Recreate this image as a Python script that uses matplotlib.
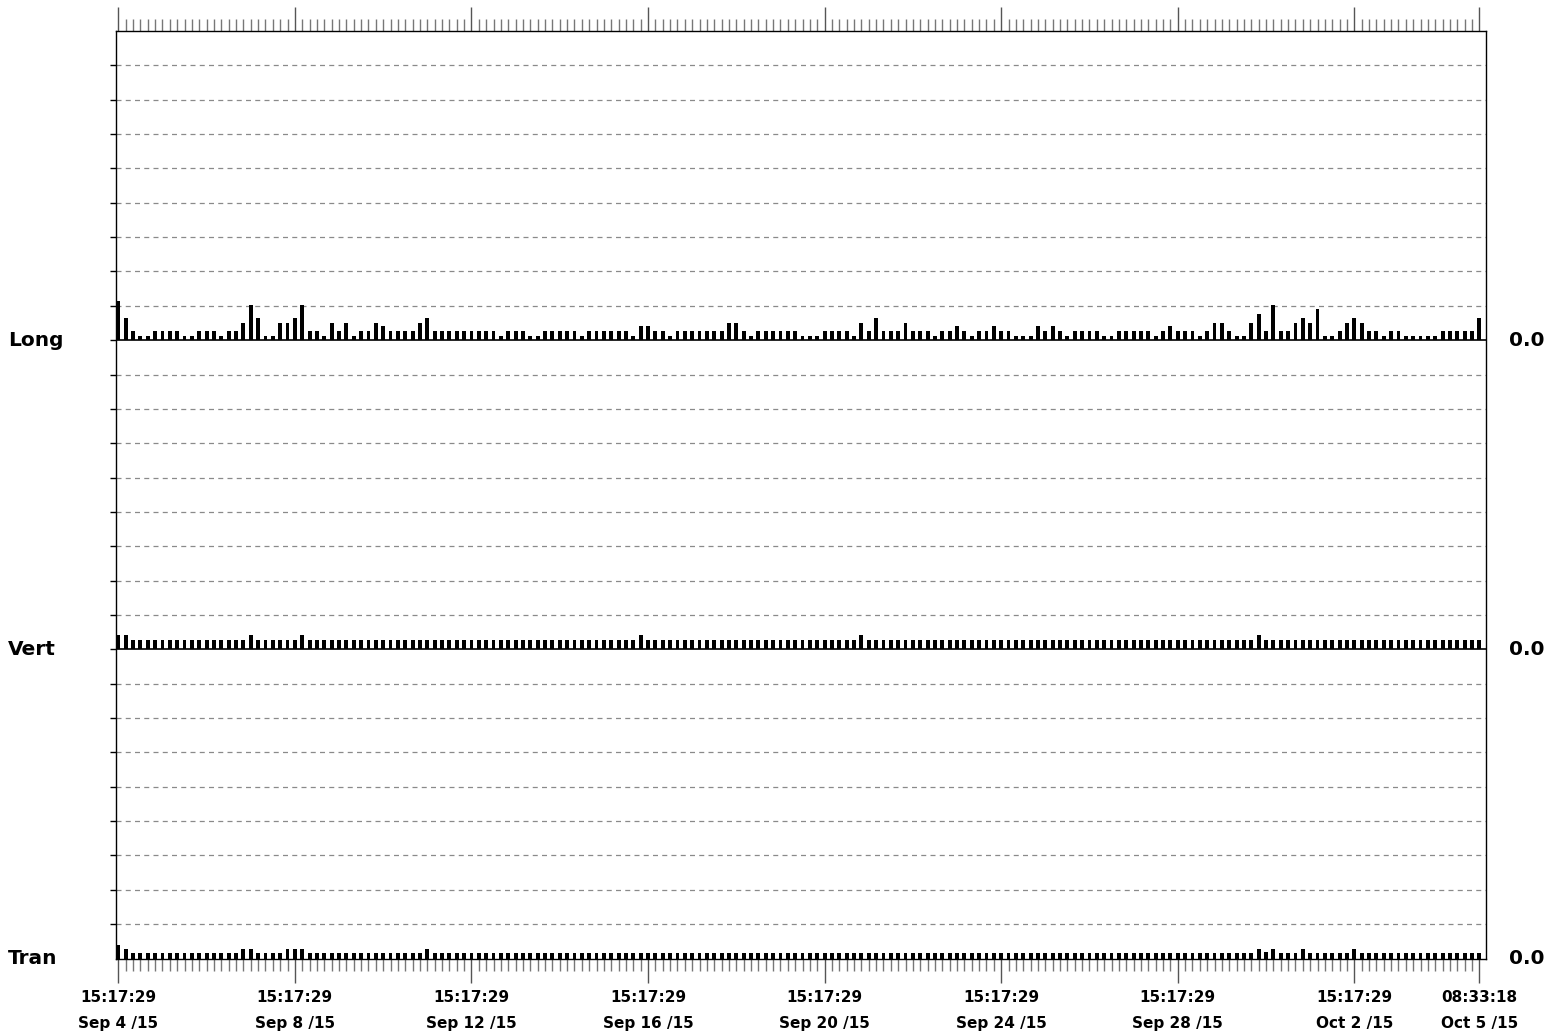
#!/usr/bin/env python
"""Three-strip bar trace (Long / Vert / Tran) over Sep 4 - Oct 5 2015."""

import matplotlib.pyplot as plt
from matplotlib.transforms import blended_transform_factory

plt.rcParams['font.family'] = ['DejaVu Sans']

#+++ Data -- one sample every 4 h starting Sep 4 15:17:29 (x in hours), heights in grid units
n_samples = 186
hours = [4 * i for i in range(n_samples)]

long_vals = [
    1.13, 0.64, 0.27, 0.13, 0.13, 0.27, 0.27, 0.27, 0.27, 0.13,
    0.13, 0.27, 0.27, 0.27, 0.13, 0.27, 0.27, 0.51, 1.02, 0.64,
    0.13, 0.13, 0.51, 0.51, 0.64, 1.02, 0.27, 0.27, 0.13, 0.51,
    0.27, 0.51, 0.13, 0.27, 0.27, 0.51, 0.40, 0.27, 0.27, 0.27,
    0.27, 0.51, 0.64, 0.27, 0.27, 0.27, 0.27, 0.27, 0.27, 0.27,
    0.27, 0.27, 0.13, 0.27, 0.27, 0.27, 0.13, 0.13, 0.27, 0.27,
    0.27, 0.27, 0.27, 0.13, 0.27, 0.27, 0.27, 0.27, 0.27, 0.27,
    0.13, 0.40, 0.40, 0.27, 0.27, 0.13, 0.27, 0.27, 0.27, 0.27,
    0.27, 0.27, 0.27, 0.51, 0.51, 0.27, 0.13, 0.27, 0.27, 0.27,
    0.27, 0.27, 0.27, 0.13, 0.13, 0.13, 0.27, 0.27, 0.27, 0.27,
    0.13, 0.51, 0.27, 0.64, 0.27, 0.27, 0.27, 0.51, 0.27, 0.27,
    0.27, 0.13, 0.27, 0.27, 0.40, 0.27, 0.13, 0.27, 0.27, 0.40,
    0.27, 0.27, 0.13, 0.13, 0.13, 0.40, 0.27, 0.40, 0.27, 0.13,
    0.27, 0.27, 0.27, 0.27, 0.13, 0.13, 0.27, 0.27, 0.27, 0.27,
    0.27, 0.13, 0.27, 0.40, 0.27, 0.27, 0.27, 0.13, 0.27, 0.51,
    0.51, 0.27, 0.13, 0.13, 0.51, 0.76, 0.27, 1.02, 0.27, 0.27,
    0.51, 0.64, 0.51, 0.90, 0.13, 0.13, 0.27, 0.51, 0.64, 0.51,
    0.27, 0.27, 0.13, 0.27, 0.27, 0.13, 0.13, 0.13, 0.13, 0.13,
    0.27, 0.27, 0.27, 0.27, 0.27, 0.64,
]

vert_vals = [
    0.41, 0.41, 0.27, 0.27, 0.27, 0.27, 0.27, 0.27, 0.27, 0.27, 0.27, 0.27, 0.27, 0.27, 0.27, 0.27, 0.27, 0.27, 0.41, 0.27,
    0.27, 0.27, 0.27, 0.27, 0.27, 0.41, 0.27, 0.27, 0.27, 0.27, 0.27, 0.27, 0.27, 0.27, 0.27, 0.27, 0.27, 0.27, 0.27, 0.27,
    0.27, 0.27, 0.27, 0.27, 0.27, 0.27, 0.27, 0.27, 0.27, 0.27, 0.27, 0.27, 0.27, 0.27, 0.27, 0.27, 0.27, 0.27, 0.27, 0.27,
    0.27, 0.27, 0.27, 0.27, 0.27, 0.27, 0.27, 0.27, 0.27, 0.27, 0.27, 0.41, 0.27, 0.27, 0.27, 0.27, 0.27, 0.27, 0.27, 0.27,
    0.27, 0.27, 0.27, 0.27, 0.27, 0.27, 0.27, 0.27, 0.27, 0.27, 0.27, 0.27, 0.27, 0.27, 0.27, 0.27, 0.27, 0.27, 0.27, 0.27,
    0.27, 0.41, 0.27, 0.27, 0.27, 0.27, 0.27, 0.27, 0.27, 0.27, 0.27, 0.27, 0.27, 0.27, 0.27, 0.27, 0.27, 0.27, 0.27, 0.27,
    0.27, 0.27, 0.27, 0.27, 0.27, 0.27, 0.27, 0.27, 0.27, 0.27, 0.27, 0.27, 0.27, 0.27, 0.27, 0.27, 0.27, 0.27, 0.27, 0.27,
    0.27, 0.27, 0.27, 0.27, 0.27, 0.27, 0.27, 0.27, 0.27, 0.27, 0.27, 0.27, 0.27, 0.27, 0.27, 0.41, 0.27, 0.27, 0.27, 0.27,
    0.27, 0.27, 0.27, 0.27, 0.27, 0.27, 0.27, 0.27, 0.27, 0.27, 0.27, 0.27, 0.27, 0.27, 0.27, 0.27, 0.27, 0.27, 0.27, 0.27,
    0.27, 0.27, 0.27, 0.27, 0.27, 0.27,
]

tran_vals = [
    0.40, 0.27, 0.16, 0.16, 0.16, 0.16, 0.16, 0.16, 0.16, 0.16, 0.16, 0.16, 0.16, 0.16, 0.16, 0.16, 0.16, 0.27, 0.27, 0.16,
    0.16, 0.16, 0.16, 0.27, 0.27, 0.27, 0.16, 0.16, 0.16, 0.16, 0.16, 0.16, 0.16, 0.16, 0.16, 0.16, 0.16, 0.16, 0.16, 0.16,
    0.16, 0.16, 0.27, 0.16, 0.16, 0.16, 0.16, 0.16, 0.16, 0.16, 0.16, 0.16, 0.16, 0.16, 0.16, 0.16, 0.16, 0.16, 0.16, 0.16,
    0.16, 0.16, 0.16, 0.16, 0.16, 0.16, 0.16, 0.16, 0.16, 0.16, 0.16, 0.16, 0.16, 0.16, 0.16, 0.16, 0.16, 0.16, 0.16, 0.16,
    0.16, 0.16, 0.16, 0.16, 0.16, 0.16, 0.16, 0.16, 0.16, 0.16, 0.16, 0.16, 0.16, 0.16, 0.16, 0.16, 0.16, 0.16, 0.16, 0.16,
    0.16, 0.16, 0.16, 0.16, 0.16, 0.16, 0.16, 0.16, 0.16, 0.16, 0.16, 0.16, 0.16, 0.16, 0.16, 0.16, 0.16, 0.16, 0.16, 0.16,
    0.16, 0.16, 0.16, 0.16, 0.16, 0.16, 0.16, 0.16, 0.16, 0.16, 0.16, 0.16, 0.16, 0.16, 0.16, 0.16, 0.16, 0.16, 0.16, 0.16,
    0.16, 0.16, 0.16, 0.16, 0.16, 0.16, 0.16, 0.16, 0.16, 0.16, 0.16, 0.16, 0.16, 0.16, 0.16, 0.27, 0.20, 0.27, 0.16, 0.16,
    0.16, 0.27, 0.16, 0.16, 0.16, 0.16, 0.16, 0.16, 0.27, 0.16, 0.16, 0.16, 0.16, 0.16, 0.16, 0.16, 0.16, 0.16, 0.16, 0.16,
    0.16, 0.16, 0.16, 0.16, 0.16, 0.16,
]

strip_names = ["Long", "Vert", "Tran"]
strip_values = [long_vals, vert_vals, tran_vals]
strip_right_labels = ["0.0", "0.0", "0.0"]

major_hours = [0, 96, 192, 288, 384, 480, 576, 672, 740]
major_labels = [
    "15:17:29\nSep 4 /15", "15:17:29\nSep 8 /15", "15:17:29\nSep 12 /15",
    "15:17:29\nSep 16 /15", "15:17:29\nSep 20 /15", "15:17:29\nSep 24 /15",
    "15:17:29\nSep 28 /15", "15:17:29\nOct 2 /15", "08:33:18\nOct 5 /15",
]
#---

#+++ Layout: one axes, each strip 9 grid units tall, stacked Long / Vert / Tran
W, H = 1548, 1036
fig = plt.figure(figsize=(W / 100, H / 100), dpi=100)
ax = fig.add_axes([116 / W, 1 - 958.5 / H, (1486 - 116) / W, (958.5 - 31) / H])

units_per_strip = 9
bases = [2 * units_per_strip, units_per_strip, 0]

for y in range(1, 3 * units_per_strip):
    if y % units_per_strip == 0:
        ax.axhline(y, color="black", lw=1.2, zorder=1)
    else:
        ax.axhline(y, color="#8a8a8a", lw=0.9, ls=(0, (4.0, 3.4)), zorder=1)

for base, vals in zip(bases, strip_values):
    ax.bar(hours, vals, bottom=base, width=2.1, color="black", align="center", zorder=2)

ax.set_xlim(-1.25, 743.6)
ax.set_ylim(0, 3 * units_per_strip)

ax.set_xticks(major_hours)
ax.set_xticklabels(major_labels, fontsize=11, fontweight="bold", linespacing=1.95)
ax.set_xticks(hours, minor=True)
ax.tick_params(axis="x", which="major", direction="out", length=17.5, width=1.0,
               color="#555555", top=True, bottom=True, pad=5)
ax.tick_params(axis="x", which="minor", direction="out", length=8.5, width=1.0,
               color="#777777", top=True, bottom=True)

ax.set_yticks(range(1, 3 * units_per_strip))
ax.set_yticklabels([])
ax.tick_params(axis="y", direction="out", length=4, width=1.0, color="black", left=True, right=False)

for sp in ax.spines.values():
    sp.set_color("black")
    sp.set_linewidth(1.0)

trans = blended_transform_factory(fig.transFigure, ax.transData)
for base, name, rlab in zip(bases, strip_names, strip_right_labels):
    ax.text(8 / W, base, name, transform=trans, ha="left", va="center",
            fontsize=14.5, fontweight="bold")
    ax.text(1509 / W, base, rlab, transform=trans, ha="left", va="center",
            fontsize=14.5, fontweight="bold")
#---

fig.savefig("out.png", dpi=100)
